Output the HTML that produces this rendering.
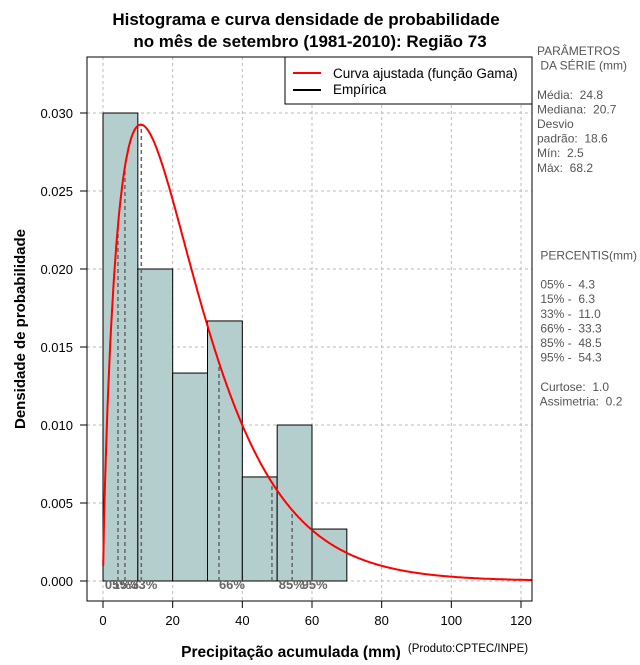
<!DOCTYPE html>
<html><head><meta charset="utf-8"><style>
body{margin:0;background:#fff;}
svg text{font-family:"Liberation Sans",sans-serif;}
</style></head><body>
<svg id="c" width="640" height="660" xmlns="http://www.w3.org/2000/svg">
<text x="306" y="25" text-anchor="middle" font-size="17" font-weight="bold">Histograma e curva densidade de probabilidade</text>
<text x="310" y="47" text-anchor="middle" font-size="17" font-weight="bold">no mês de setembro (1981-2010): Região 73</text>
<g id="grid"></g>
<g id="bars"></g>
<g id="pct"></g>
<path id="curve" fill="none" stroke="#f00" stroke-width="2"/>
<rect x="87" y="57" width="445" height="544" fill="none" stroke="#000"/>
<g id="axes"></g>
<text x="291" y="657" text-anchor="middle" font-size="15.5" font-weight="bold">Precipitação acumulada (mm)</text>
<text x="468" y="652" text-anchor="middle" font-size="11.5">(Produto:CPTEC/INPE)</text>
<text transform="translate(25,329) rotate(-90)" text-anchor="middle" font-size="15" font-weight="bold">Densidade de probabilidade</text>
<g>
<rect x="285" y="57" width="247" height="47" fill="#fff" stroke="#000"/>
<line x1="293" y1="73" x2="321" y2="73" stroke="#f00" stroke-width="2"/>
<text x="333" y="78" font-size="13.5">Curva ajustada (função Gama)</text>
<line x1="293" y1="90" x2="321" y2="90" stroke="#000" stroke-width="2"/>
<text x="333" y="94" font-size="13.5">Empírica</text>
</g>
<g id="side" font-size="12" fill="#555"></g>
</svg>
<script>
const binStarts=[0,10,20,30,40,50,60];
const binDensity=[0.030,0.020,0.01333,0.01667,0.00667,0.010,0.00333];
const binWidth=10;
const gammaShape=[1.778];
const gammaScale=[13.95];
const pctLabels=["05%","15%","33%","66%","85%","95%"];
const pctValues=[4.3,6.3,11.0,33.3,48.5,54.3];
const xTicks=[0,20,40,60,80,100,120];
const yTicks=[0.000,0.005,0.010,0.015,0.020,0.025,0.030];
const sideLines=["PARÂMETROS"," DA SÉRIE (mm)","","Média:  24.8","Mediana:  20.7","Desvio","padrão:  18.6","Mín:  2.5","Máx:  68.2","","","","",""," PERCENTIS(mm)",""," 05% -  4.3"," 15% -  6.3"," 33% -  11.0"," 66% -  33.3"," 85% -  48.5"," 95% -  54.3",""," Curtose:  1.0"," Assimetria:  0.2"];
const NS="http://www.w3.org/2000/svg";
const X=v=>103+v*(521-103)/120;
const Y=v=>581-v*(581-113)/0.030;
function mk(p,t,a){const e=document.createElementNS(NS,t);for(const k in a)e.setAttribute(k,a[k]);p.appendChild(e);return e;}
function lg(z){const c=[76.18009,-86.50532,24.01410,-1.231740,0.00120866,-0.00000539];let x=z,y=z,t=x+5.5;t-=(x+0.5)*Math.log(t);let s=1.000000000190015;for(const q of c)s+=q/++y;return -t+Math.log(2.5066282746310005*s/x);}
function dens(x){const k=gammaShape[0],th=gammaScale[0];if(x<=0)return 0;return Math.exp((k-1)*Math.log(x)-x/th-lg(k)-k*Math.log(th));}
const grid=document.getElementById('grid'),axes=document.getElementById('axes');
xTicks.forEach(v=>{mk(grid,'line',{x1:X(v),x2:X(v),y1:57,y2:601,stroke:'#bbb','stroke-dasharray':'3,3'});
mk(axes,'line',{x1:X(v),x2:X(v),y1:601,y2:608,stroke:'#000'});
const t=mk(axes,'text',{x:X(v),y:625,'text-anchor':'middle','font-size':13});t.textContent=v;

});
yTicks.forEach(v=>{mk(grid,'line',{x1:87,x2:532,y1:Y(v),y2:Y(v),stroke:'#bbb','stroke-dasharray':'3,3'});
mk(axes,'line',{x1:80,x2:87,y1:Y(v),y2:Y(v),stroke:'#000'});
const t=mk(axes,'text',{x:73,y:Y(v)+5,'text-anchor':'end','font-size':13});t.textContent=v.toFixed(3);

});
const bars=document.getElementById('bars');
binStarts.forEach((s,i)=>{const r=mk(bars,'rect',{x:X(s),y:Y(binDensity[i]),width:X(s+binWidth)-X(s),height:Y(0)-Y(binDensity[i]),fill:'#b4cdcd',stroke:'#000','stroke-width':1});

});
const pct=document.getElementById('pct');
pctValues.forEach((v,i)=>{const l=mk(pct,'line',{x1:X(v),x2:X(v),y1:Y(0),y2:Y(dens(v)),stroke:'#666','stroke-width':1.5,'stroke-dasharray':'4,3'});


const t=mk(pct,'text',{x:X(v)+v*0.45-2,y:589,'text-anchor':'middle','font-size':13,'font-weight':'bold',fill:'#666'});t.textContent=pctLabels[i];

});
let d='';for(let x=0.05;x<=123.5;x+=0.25){d+=(d?'L':'M')+X(x).toFixed(1)+','+Y(dens(x)).toFixed(1);}
document.getElementById('curve').setAttribute('d',d);
const side=document.getElementById('side');
sideLines.forEach((s,i)=>{if(!s)return;const t=mk(side,'text',{x:537,y:55+i*14.6});t.textContent=s;t.setAttribute('xml:space','preserve');t.style.whiteSpace='pre';

});
</script>
</body></html>
